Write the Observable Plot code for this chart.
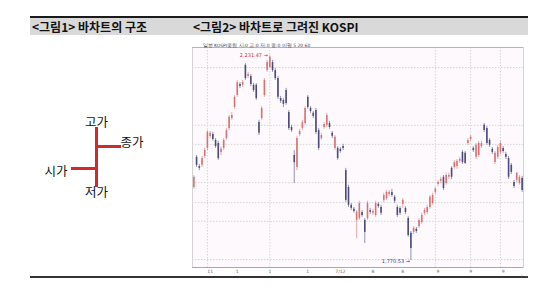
<!DOCTYPE html>
<html><head><meta charset="utf-8">
<script src="https://cdn.jsdelivr.net/npm/d3@7"></script>
<script src="https://cdn.jsdelivr.net/npm/@observablehq/plot@0.6"></script>
<style>
html,body{margin:0;padding:0;background:#fff;width:552px;height:296px;overflow:hidden;position:relative;font-family:'Noto Sans CJK KR',sans-serif;}
#hdr{position:absolute;left:30px;top:16px;width:498px;height:17px;border-top:2px solid #1a1a1a;background:#d9d9d9;}
.ht{position:absolute;top:0;font-weight:bold;font-size:12px;line-height:17px;color:#111;white-space:nowrap;}
#foot{position:absolute;left:30px;top:276px;width:498px;height:0;border-top:2px solid #333;}
#left{position:absolute;left:0;top:100px;}
#right{position:absolute;left:185px;top:40px;}
</style></head>
<body>
<div id="hdr"><span class="ht" style="left:2px">&lt;그림1&gt; 바차트의 구조</span><span class="ht" style="left:163px">&lt;그림2&gt; 바차트로 그려진 KOSPI</span></div>
<div id="foot"></div>
<div id="left"></div>
<div id="right"></div>
<script>
// ---- Figure 1: bar structure ----
const structLabels = ["시가", "고가", "저가", "종가"];
const structValues = [19, 60, 0, 41];

// ---- Figure 2: KOSPI bars (open, high, low, close) ----
const opens = [1935,2003,1982,1985,2005,2023,2050,2054,2041,2034,2014,2023,2045,2068,2090,2115,2142,2167,2165,2210,2185,2185,2165,2165,2081,2090,2142,2198,2205,2216,2198,2180,2135,2131,2153,2104,2070,2007,1980,2054,2068,2079,2138,2113,2102,2108,2063,2045,2070,2075,2079,2057,2023,2023,2021,2027,1973,1935,1895,1886,1861,1865,1879,1861,1865,1883,1877,1872,1897,1890,1906,1910,1919,1924,1913,1890,1888,1897,1888,1865,1832,1834,1841,1847,1856,1877,1879,1890,1899,1924,1942,1949,1958,1944,1958,1978,1980,1982,1994,2014,2012,2034,2043,2023,2003,2007,2027,2075,2068,2041,2021,1991,2003,2014,2023,2009,2000,1985,1946,1951,1944,1955];
const highs = [1962,2007,1987,2005,2023,2063,2061,2059,2045,2039,2027,2045,2068,2097,2104,2142,2176,2171,2176,2214,2194,2189,2169,2169,2086,2117,2180,2221,2231.47,2221,2203,2185,2140,2135,2158,2108,2075,2018,2050,2066,2086,2117,2142,2117,2106,2113,2068,2057,2081,2102,2084,2061,2052,2027,2025,2032,1978,1940,1899,1890,1883,1904,1883,1865,1904,1888,1886,1904,1901,1895,1922,1928,1928,1931,1917,1895,1892,1910,1892,1870,1836,1847,1845,1865,1877,1888,1895,1917,1922,1935,1951,1958,1962,1967,1967,1982,1996,1998,2003,2018,2016,2045,2052,2027,2034,2039,2039,2079,2072,2045,2025,2016,2030,2039,2027,2014,2005,1989,1951,1969,1962,1960];
const lows = [1931,1980,1973,1980,2000,2018,2045,2039,2023,1996,2007,2018,2041,2063,2086,2111,2138,2158,2160,2176,2180,2162,2149,2131,2052,2086,2138,2194,2203,2194,2176,2133,2124,2115,2120,2063,2059,1944,1973,2050,2063,2075,2111,2102,2090,2054,2018,2041,2066,2070,2066,2045,2018,1996,2012,2018,1901,1890,1883,1877,1820,1861,1868,1809,1861,1874,1872,1868,1888,1872,1901,1906,1915,1913,1899,1868,1872,1888,1874,1823,1770.53,1829,1832,1843,1852,1872,1874,1886,1895,1919,1937,1944,1928,1940,1953,1953,1976,1976,1989,1987,1987,2030,2039,2014,1998,2003,2023,2059,2030,2025,2009,1987,1998,2009,2012,1998,1953,1964,1933,1946,1940,1924];
const closes = [1958,1985,1978,2000,2018,2059,2057,2043,2027,2000,2021,2041,2063,2093,2097,2138,2171,2162,2171,2180,2189,2167,2153,2135,2057,2113,2176,2216,2228,2198,2180,2138,2129,2122,2124,2068,2063,1991,2045,2061,2081,2113,2115,2106,2095,2059,2023,2052,2077,2097,2070,2050,2048,2000,2016,2023,1906,1895,1888,1881,1879,1899,1872,1834,1899,1879,1881,1899,1892,1877,1917,1924,1924,1917,1904,1872,1877,1906,1879,1827,1798,1843,1836,1861,1872,1883,1890,1913,1917,1931,1946,1953,1933,1962,1962,1958,1991,1994,1998,1991,1989,2041,2048,2018,2030,2034,2034,2063,2034,2030,2014,2012,2025,2034,2016,2003,1958,1969,1937,1967,1958,1928];
const xTickIdx = [6, 16, 28, 42, 54, 66, 77, 90, 102, 114];
const xTickLabels = ["11", "1", "1", "1", "7/12", "8", "8", "9", "9", "9"];
const gridY = [2205, 2075, 2032, 1946, 1901, 1859, 1773];
const gridX = [5, 28, 89, 102, 113];
const legendText = "일봉 KOSPI종합 시:0 고:0 저:0 종:0 이평 5 20 60";

const red = "#d46a6a", navy = "#3f4075";

// Figure 1
{
  const s = Object.fromEntries(structLabels.map((k, i) => [k, structValues[i]]));
  const txt = structLabels.map((k, i) => ({k, v: structValues[i]}));
  const fig1 = Plot.plot({
    width: 190, height: 110,
    margin: 0,
    x: {axis: null, domain: [-3.84, 3.76]},
    y: {axis: null, domain: [-23, 87]},
    style: {fontFamily: "'Noto Sans CJK KR', sans-serif", background: "transparent"},
    marks: [
      Plot.ruleX([0], {y1: s["저가"], y2: s["고가"], stroke: "#d02a2a", strokeWidth: 3}),
      Plot.ruleY([s["종가"]], {x1: 0, x2: 1, stroke: "#d02a2a", strokeWidth: 3}),
      Plot.ruleY([s["시가"]], {x1: -1, x2: 0, stroke: "#d02a2a", strokeWidth: 3}),
      Plot.text(txt.filter(d => d.k === "고가"), {x: 0, y: "v", text: "k", lineAnchor: "bottom", dy: -1, fontSize: 12.5, fill: "#111"}),
      Plot.text(txt.filter(d => d.k === "저가"), {x: 0, y: "v", text: "k", lineAnchor: "top", dy: 1, fontSize: 12.5, fill: "#111"}),
      Plot.text(txt.filter(d => d.k === "종가"), {x: 1, y: "v", text: "k", textAnchor: "start", lineAnchor: "bottom", dx: -1, dy: 0, fontSize: 12.5, fill: "#111"}),
      Plot.text(txt.filter(d => d.k === "시가"), {x: -1, y: "v", text: "k", textAnchor: "end", dx: -4, dy: 3, fontSize: 12.5, fill: "#111"})
    ]
  });
  document.getElementById("left").appendChild(fig1);
}

// Figure 2
{
  const bars = opens.map((o, i) => ({i, o, h: highs[i], l: lows[i], c: closes[i]}));
  const col = d => (d.c >= d.o ? red : navy);
  let hiIdx = 0, loIdx = 0;
  bars.forEach((d, i) => { if (d.h > bars[hiIdx].h) hiIdx = i; if (d.l < bars[loIdx].l) loIdx = i; });
  const fmt = d3.format(",.2f");
  const fig2 = Plot.plot({
    width: 345, height: 240,
    marginLeft: 7, marginRight: 7, marginTop: 7, marginBottom: 13,
    x: {domain: [-0.5, opens.length - 0.5], axis: null},
    y: {domain: [1755, 2250], axis: null},
    color: {type: "identity"},
    style: {fontFamily: "'DejaVu Sans', sans-serif", background: "transparent"},
    marks: [
      Plot.frame({fill: "#fdf9fc", stroke: "#d4d4d4"}),
      Plot.ruleY(gridY, {stroke: "#d6d6d6", strokeDasharray: "1.5,1.5"}),
      Plot.ruleX(gridX, {stroke: "#d6d6d6", strokeDasharray: "1.5,1.5"}),
      Plot.ruleY([2250], {stroke: "#b5b5b5"}),
      Plot.ruleY([1755], {stroke: "#a8a8a8"}),
      Plot.ruleX(bars, {x: "i", y1: "l", y2: "h", stroke: col, strokeWidth: 1, strokeOpacity: 0.55}),
      Plot.ruleX(bars, {x: "i", y1: "o", y2: "c", stroke: col, strokeWidth: 1.6, strokeOpacity: 0.9}),
      Plot.text([bars[hiIdx]], {x: "i", y: "h", text: d => fmt(d.h) + " →", textAnchor: "end", dx: -2, dy: 0, fontSize: 5, fill: "#cc3333"}),
      Plot.text([bars[loIdx]], {x: "i", y: "l", text: d => fmt(d.l) + " →", textAnchor: "end", dx: -1, dy: 1, fontSize: 5, fill: "#3a3a90"}),
      Plot.text([legendText], {frameAnchor: "top-left", text: d => d, dx: 10, dy: -4, fontSize: 4.5, fill: "#445", textAnchor: "start"}),
      Plot.axisX(xTickIdx, {anchor: "bottom", tickSize: 0, tickPadding: 2, fontSize: 4.5, fill: "#666", tickFormat: (d, i) => xTickLabels[xTickIdx.indexOf(d)]})
    ]
  });
  document.getElementById("right").appendChild(fig2);
}
</script>
</body></html>
